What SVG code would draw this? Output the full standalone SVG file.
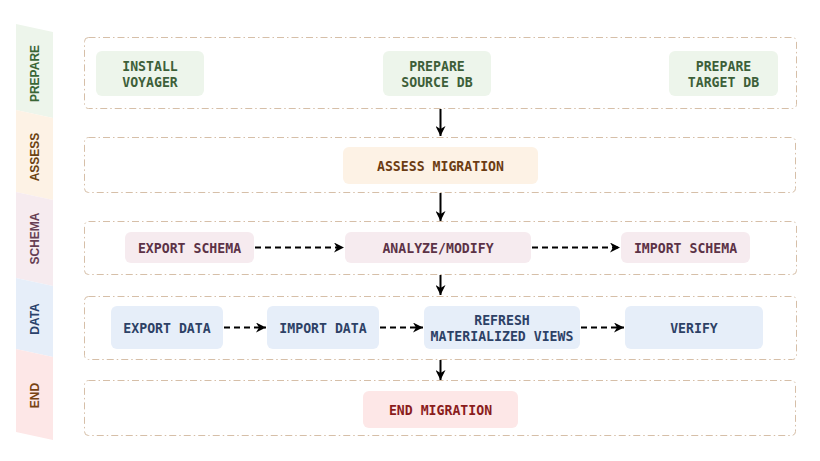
<svg xmlns="http://www.w3.org/2000/svg" width="820" height="461" viewBox="0 0 820 461">
<defs>
<marker id="ah" viewBox="0 0 10 10" refX="10" refY="5" markerWidth="10" markerHeight="10" markerUnits="userSpaceOnUse" orient="auto">
<path d="M0,0 L10,5 L0,10 L3,5 z" fill="#000"/>
</marker>
<style>
.band-label{font-family:"Liberation Sans","DejaVu Sans",sans-serif;font-weight:bold;font-size:12px;text-anchor:middle;dominant-baseline:central}
.lane{fill:none;stroke:#d6bfa8;stroke-width:1;stroke-dasharray:7 3 1.5 3}
.nt{font-family:"DejaVu Sans Mono","Liberation Mono",monospace;font-weight:bold;font-size:13.2px;text-anchor:middle}
.g rect{fill:#edf5eb}.g text{fill:#3d5f39}
.a rect{fill:#fdf2e5}.a text{fill:#6b3c13}
.s rect{fill:#f6ebef}.s text{fill:#5c3246}
.d rect{fill:#e6eef9}.d text{fill:#2d4166}
.e rect{fill:#fde7e7}.e text{fill:#8a1c1c}
.solid{fill:none;stroke:#000;stroke-width:2;marker-end:url(#ah)}
.dash{fill:none;stroke:#000;stroke-width:2;stroke-dasharray:6 4;marker-end:url(#ah)}
</style>
</defs>
<rect width="820" height="461" fill="#fff"/>
<g id="bands">
<polygon points="16,24 53,32 53,118 16,110" fill="#edf5eb"/>
<polygon points="16,110 53,118 53,200 16,192" fill="#fdf2e5"/>
<polygon points="16,192 53,200 53,286 16,278" fill="#f6ebef"/>
<polygon points="16,278 53,286 53,357 16,349" fill="#e6eef9"/>
<polygon points="16,349 53,357 53,440 16,432" fill="#fde7e7"/>
<text class="band-label" transform="translate(34.5,73.5) rotate(-90)" fill="#3a6636">PREPARE</text>
<text class="band-label" transform="translate(34.5,157) rotate(-90)" fill="#6b4212">ASSESS</text>
<text class="band-label" transform="translate(34.5,238.5) rotate(-90)" fill="#663f53">SCHEMA</text>
<text class="band-label" transform="translate(34.5,319) rotate(-90)" fill="#2a416b">DATA</text>
<text class="band-label" transform="translate(34.5,395.5) rotate(-90)" fill="#774212">END</text>
</g>
<g id="lanes">
<rect class="lane" x="84.5" y="37.5" width="712" height="71" rx="4"/>
<rect class="lane" x="84.5" y="137.5" width="711" height="55" rx="4"/>
<rect class="lane" x="84.5" y="221.5" width="712" height="53" rx="4"/>
<rect class="lane" x="84.5" y="296.5" width="712" height="63" rx="4"/>
<rect class="lane" x="84.5" y="380.5" width="711" height="55" rx="4"/>
</g>
<g id="connectors">
<line class="solid" x1="440.5" y1="109" x2="440.5" y2="136"/>
<line class="solid" x1="440.5" y1="193" x2="440.5" y2="221"/>
<line class="solid" x1="440.5" y1="275" x2="440.5" y2="295"/>
<line class="solid" x1="440.5" y1="360" x2="440.5" y2="380"/>
<line class="dash" x1="255" y1="247.5" x2="344" y2="247.5"/>
<line class="dash" x1="532" y1="247.5" x2="620" y2="247.5"/>
<line class="dash" x1="224" y1="327.5" x2="266" y2="327.5"/>
<line class="dash" x1="380" y1="327.5" x2="423" y2="327.5"/>
<line class="dash" x1="581" y1="327.5" x2="624" y2="327.5"/>
</g>
<g id="install-voyager" class="g"><rect x="96" y="51" width="108" height="45" rx="6"/><text class="nt" x="150" y="70.5">INSTALL</text><text class="nt" x="150" y="86.5">VOYAGER</text></g>
<g id="prepare-source" class="g"><rect x="383" y="51" width="108" height="45" rx="6"/><text class="nt" x="437" y="70.5">PREPARE</text><text class="nt" x="437" y="86.5">SOURCE DB</text></g>
<g id="prepare-target" class="g"><rect x="669" y="51" width="109" height="45" rx="6"/><text class="nt" x="723.5" y="70.5">PREPARE</text><text class="nt" x="723.5" y="86.5">TARGET DB</text></g>
<g id="assess-migration" class="a"><rect x="343" y="147" width="195" height="37" rx="6"/><text class="nt" x="440.5" y="170.5">ASSESS MIGRATION</text></g>
<g id="export-schema" class="s"><rect x="125" y="232" width="129" height="31" rx="6"/><text class="nt" x="189.5" y="252.5">EXPORT SCHEMA</text></g>
<g id="analyze-modify" class="s"><rect x="345" y="232" width="186" height="31" rx="6"/><text class="nt" x="438" y="252.5">ANALYZE/MODIFY</text></g>
<g id="import-schema" class="s"><rect x="621" y="232" width="129" height="31" rx="6"/><text class="nt" x="685.5" y="252.5">IMPORT SCHEMA</text></g>
<g id="export-data" class="d"><rect x="111" y="306" width="112" height="43" rx="6"/><text class="nt" x="167" y="332.5">EXPORT DATA</text></g>
<g id="import-data" class="d"><rect x="267" y="306" width="112" height="43" rx="6"/><text class="nt" x="323" y="332.5">IMPORT DATA</text></g>
<g id="refresh-views" class="d"><rect x="424" y="306" width="156" height="43" rx="6"/><text class="nt" x="502" y="324.5">REFRESH</text><text class="nt" x="502" y="340.5">MATERIALIZED VIEWS</text></g>
<g id="verify" class="d"><rect x="625" y="306" width="138" height="43" rx="6"/><text class="nt" x="694" y="332.5">VERIFY</text></g>
<g id="end-migration" class="e"><rect x="363" y="391" width="155" height="37" rx="6"/><text class="nt" x="440.5" y="414.5">END MIGRATION</text></g>
</svg>
